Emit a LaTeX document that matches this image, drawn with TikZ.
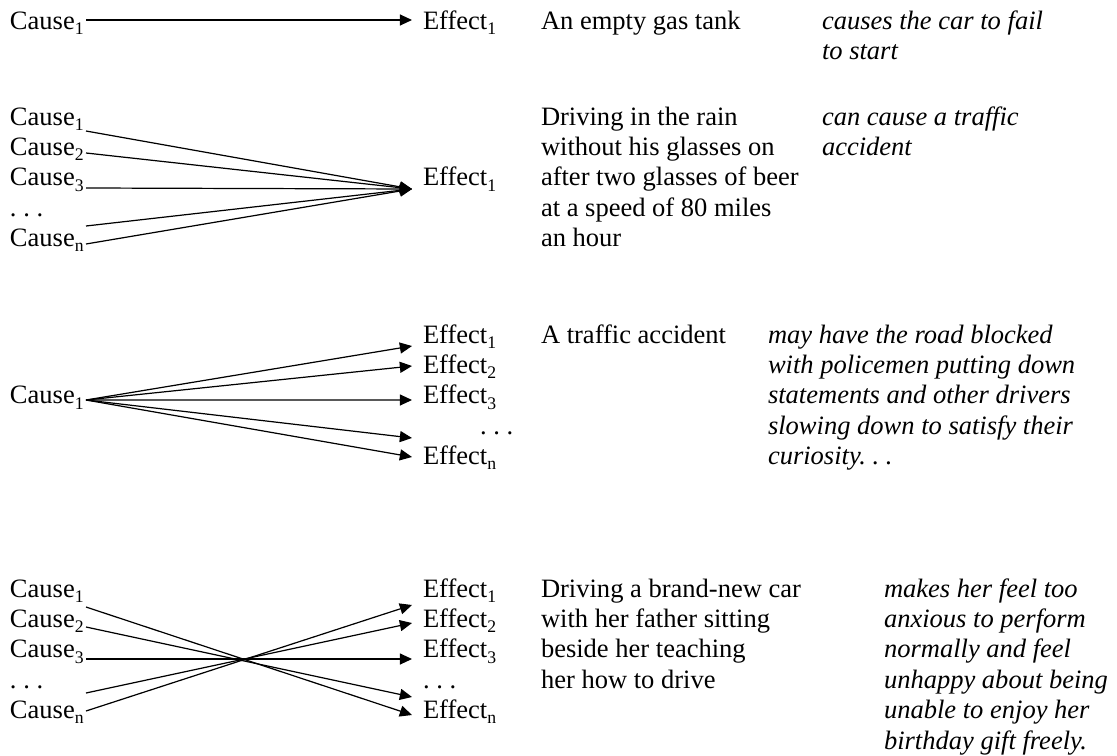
\documentclass[tikz,border=0pt]{standalone}
\usepackage{fontspec}
\setmainfont{Liberation Serif}
\usetikzlibrary{calc,arrows.meta}
\newcommand*{\lowidx}[1]{\raisebox{-2.4pt}{\fontsize{8}{9}\selectfont #1}}
\newcommand*{\TextLines}[5]{% #1 = list of row/words, #2 = x, #3 = first baseline, #4 = name, #5 = style
\foreach \r/\words in {#1} {
\node [txt, #5] (#4\r)
at (#2,#3+30.4*\r) {\words};
}%
}

\begin{document}
\begin{tikzpicture}[x=0.4525pt,y=-0.4525pt,
    txt/.style={anchor=base west, inner sep=0pt, outer sep=0pt,
        font=\fontsize{12}{13.7}\selectfont},
    note/.style={font=\fontsize{12}{13.7}\selectfont\itshape},
    arr/.style={-{Triangle[length=5.5pt,width=5pt]}, line width=0.55pt}]

            \useasboundingbox (0,0) rectangle (1117,755);

            % one cause, one effect
            \node [txt] (a1) at (10,29.5) {Cause\lowidx{1}};
            \node [txt] (b1) at (423,29.5) {Effect\lowidx{1}};
            \TextLines{0/An empty gas tank}{541}{29.5}{t1}{}
            \TextLines{0/causes the car to fail,1/to start}{822}{29.5}{n1}{note}
            \draw [arr] ($(a1.base west)+(76,-9.5)$) -- ($(b1.base west)+(-11,-9.5)$);

            % many causes, one effect
            \TextLines{0/Cause\lowidx{1},1/Cause\lowidx{2},2/Cause\lowidx{3},3/.\ .\ .,4/Cause\lowidx{n}}{10}{125}{c2}{}
            \node [txt] (e2) at (423,185.8) {Effect\lowidx{1}};
            \TextLines{0/Driving in the rain,1/without his glasses on,2/after two glasses of beer,3/at a speed of 80 miles,4/an hour}{541}{125}{t2}{}
            \TextLines{0/can cause a traffic,1/accident}{822}{125}{n2}{note}
            \foreach \k/\dy in {0/6,1/-2.4,2/2.2,3/9.8,4/-2.6}
                \draw [arr] ($(c2\k.base west)+(76,\dy)$) -- ($(e2.base west)+(-11,3.2)$);

            % one cause, many effects
            \node [txt] (c3) at (10,403.8) {Cause\lowidx{1}};
            \TextLines{0/Effect\lowidx{1},1/Effect\lowidx{2},2/Effect\lowidx{3},4/Effect\lowidx{n}}{423}{343}{e3}{}
            \node [txt] (e33) at (480,434.2) {.\ .\ .};
            \TextLines{0/A traffic accident}{541}{343}{t3}{}
            \TextLines{0/may have the road blocked,1/with policemen putting down,2/statements and other drivers,3/slowing down to satisfy their,4/curiosity.\ .\ .}{768}{343}{n3}{note}
            \foreach \k/\dy in {0/3,1/-7.4,2/-3.8,4/-7.6}
                \draw [arr] ($(c3.base west)+(76,-3.8)$) -- ($(e3\k.base west)+(-11,\dy)$);
            \draw [arr] ($(c3.base west)+(76,-3.8)$) -- ($(e33.base west)+(-68,3.8)$);

            % many causes, many effects
            \TextLines{0/Cause\lowidx{1},1/Cause\lowidx{2},2/Cause\lowidx{3},3/.\ .\ .,4/Cause\lowidx{n}}{10}{597}{c4}{}
            \TextLines{0/Effect\lowidx{1},1/Effect\lowidx{2},2/Effect\lowidx{3},3/.\ .\ .,4/Effect\lowidx{n}}{423}{597}{e4}{}
            \TextLines{0/Driving a brand-new car,1/with her father sitting,2/beside her teaching,3/her how to drive}{541}{597}{t4}{}
            \TextLines{0/makes her feel too,1/anxious to perform,2/normally and feel,3/unhappy about being,4/unable to enjoy her,5/birthday gift freely.}{884}{597}{n4}{note}
            \foreach \i/\di/\j/\dj in {0/10/4/-3.6,1/-0.4/3/8.8,2/1.2/2/1.2,3/4.8/1/-4.4,4/-7.6/0/8}
                \draw [arr] ($(c4\i.base west)+(76,\di)$) -- ($(e4\j.base west)+(-11,\dj)$);
        \end{tikzpicture}
\end{document}
